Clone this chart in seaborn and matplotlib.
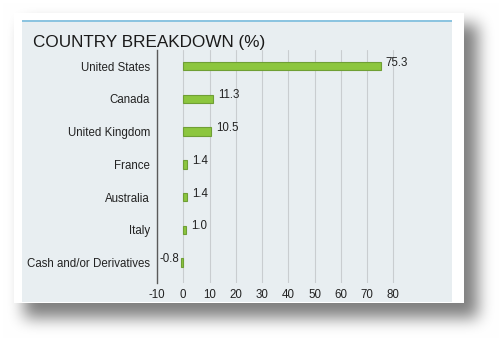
import numpy as np
import pandas as pd
import matplotlib
matplotlib.use("Agg")
import matplotlib.pyplot as plt
import seaborn as sns

categories = ["United States", "Canada", "United Kingdom", "France", "Australia", "Italy", "Cash and/or Derivatives"]
values = [75.3, 11.3, 10.5, 1.4, 1.4, 1.0, -0.8]
labels = ["75.3", "11.3", "10.5", "1.4", "1.4", "1.0", "-0.8"]
xticks = [-10, 0, 10, 20, 30, 40, 50, 60, 70, 80]
title = "COUNTRY BREAKDOWN (%)"

sns.set_theme(style="white")
plt.rcParams["font.family"] = ["Liberation Sans", "DejaVu Sans"]

W, H = 500, 338
fig = plt.figure(figsize=(W / 100, H / 100), dpi=100)
fig.patch.set_facecolor("white")

# background with blurred shadow, card and panel
bg = fig.add_axes([0, 0, 1, 1])
bg.set_axis_off()
img = np.ones((H, W, 3))
sh = np.zeros((H, W))
sh[24:318, 24:478] = 1.0
def blur(a, r, axis):
    k = np.ones(2 * r + 1) / (2 * r + 1)
    return np.apply_along_axis(lambda v: np.convolve(v, k, mode="same"), axis, a)
for _ in range(3):
    sh = blur(sh, 7, 0)
    sh = blur(sh, 7, 1)
img = img * (1 - 0.5 * sh[..., None])
# white card
img[13:303, 14:464] = 1.0
# gray panel
img[20:302, 22:452] = np.array([232, 238, 241]) / 255.0
# blue top line
img[20:22, 22:452] = np.array([140, 196, 224]) / 255.0
bg.imshow(img, extent=[0, W, H, 0], aspect="auto", interpolation="bilinear")
bg.set_xlim(0, W)
bg.set_ylim(H, 0)

fig.text(33 / W, 1 - 42 / H, title, fontsize=12.3, color="#1a1a1a", va="center", ha="left")

# main axes
x0, x1 = 157, 157 + 110 * 2.625
ytop, ybot = 50, 283
ax = fig.add_axes([x0 / W, 1 - ybot / H, (x1 - x0) / W, (ybot - ytop) / H])
ax.set_facecolor("none")
df = pd.DataFrame({"country": categories, "value": values})
sns.barplot(data=df, x="value", y="country", orient="h", color="#8cc63e",
            edgecolor="#6f9f35", linewidth=0.8, width=0.26, ax=ax, saturation=1)
ax.set_xlim(-10, 100)
ax.set_ylim(6.62, -0.49)
ax.set_xticks(xticks)
ax.set_xticklabels([str(t) for t in xticks])
ax.xaxis.grid(True, color="#c9cdd0", linewidth=0.8)
ax.yaxis.grid(False)
ax.set_axisbelow(True)
for s in ["top", "right", "bottom"]:
    ax.spines[s].set_visible(False)
ax.spines["left"].set_color("#5a5a5a")
ax.spines["left"].set_linewidth(1.0)
ax.tick_params(axis="both", length=0, labelsize=8.3, labelcolor="#222222")
ax.tick_params(axis="y", pad=5)
ax.tick_params(axis="x", pad=4)
ax.set_xlabel("")
ax.set_ylabel("")

for i, (v, lab) in enumerate(zip(values, labels)):
    if v >= 0:
        ax.annotate(lab, (v, i), xytext=(3.5, 2.5), textcoords="offset points",
                    ha="left", va="center", fontsize=8.3, color="#222222")
    else:
        ax.annotate(lab, (v, i), xytext=(-1.5, 2.5), textcoords="offset points",
                    ha="right", va="center", fontsize=8.3, color="#222222")

fig.savefig("out.png", dpi=100)
